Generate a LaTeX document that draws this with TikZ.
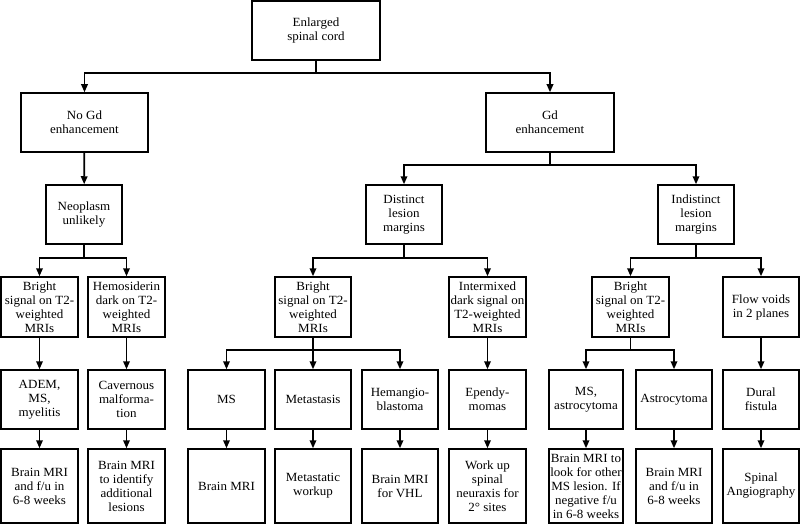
\documentclass[tikz,border=0pt]{standalone}
\usepackage{fontspec}
\setmainfont[FakeStretch=1.04]{Liberation Serif}
\usetikzlibrary{arrows.meta}

\begin{document}
\begin{tikzpicture}[x=1pt,y=-1pt,
    box/.style={draw,line width=1.5pt,inner sep=0pt,align=center,
      minimum width=#1,font=\fontsize{12.5}{14}\selectfont},
    box/.default=77pt,
    arr/.style={-{Triangle[length=8pt,width=6.5pt]},line width=1.7pt}]
    \useasboundingbox (0,0) rectangle (800,524);
    % first levels
    \node[box=128pt,minimum height=59pt] (top) at (316,30.5) {Enlarged\\spinal cord};
    \node[box=127pt,minimum height=59pt] (nogd) at (84.5,122.5) {No Gd\\enhancement};
    \node[box=128pt,minimum height=59pt] (gd) at (550,122.5) {Gd\\enhancement};
    \node[box=76pt,minimum height=59pt] (neo) at (84,214.5) {Neoplasm\\unlikely};
    \node[box=76pt,minimum height=59pt] (dist) at (404,214.5) {Distinct\\lesion\\margins};
    \node[box=76pt,minimum height=59pt] (indist) at (696,214.5) {Indistinct\\lesion\\margins};
    % signal row
    \node[box,minimum height=60pt] (bright1) at (39.5,307) {Bright\\signal on T2-\\weighted\\MRIs};
    \node[box,minimum height=60pt] (hemo) at (126.5,307) {Hemosiderin\\dark on T2-\\weighted\\MRIs};
    \node[box=76pt,minimum height=60pt] (bright2) at (313,307) {Bright\\signal on T2-\\weighted\\MRIs};
    \node[box,minimum height=60pt] (inter) at (487.5,307) {Intermixed\\dark signal on\\T2-weighted\\MRIs};
    \node[box,minimum height=60pt] (bright3) at (630.5,307) {Bright\\signal on T2-\\weighted\\MRIs};
    \node[box=76pt,minimum height=60pt] (flow) at (761,307) {Flow voids\\in 2 planes};
    % diagnosis row
    \node[box,minimum height=59pt] (adem) at (39.5,399.5) {ADEM,\\MS,\\myelitis};
    \node[box,minimum height=59pt] (cav) at (126.5,399.5) {Cavernous\\malforma-\\tion};
    \node[box,minimum height=59pt] (ms) at (226.5,399.5) {MS};
    \node[box=76pt,minimum height=59pt] (meta) at (313,399.5) {Metastasis};
    \node[box=76pt,minimum height=59pt] (hema) at (400,399.5) {Hemangio-\\blastoma};
    \node[box,minimum height=59pt] (epen) at (487.5,399.5) {Ependy-\\momas};
    \node[box=74pt,minimum height=59pt] (msastro) at (586,399.5) {MS,\\astrocytoma};
    \node[box=76pt,minimum height=59pt] (astro) at (674,399.5) {Astrocytoma};
    \node[box=76pt,minimum height=59pt] (dural) at (761,399.5) {Dural\\fistula};
    % workup row
    \node[box,minimum height=74pt] (w1) at (39.5,486) {Brain MRI\\and f/u in\\6-8 weeks};
    \node[box,minimum height=74pt] (w2) at (126.5,486) {Brain MRI\\to identify\\additional\\lesions};
    \node[box,minimum height=74pt] (w3) at (226.5,486) {Brain MRI};
    \node[box=76pt,minimum height=74pt] (w4) at (313,486) {Metastatic\\workup};
    \node[box=76pt,minimum height=74pt] (w5) at (400,486) {Brain MRI\\for VHL};
    \node[box,minimum height=74pt] (w6) at (487.5,486) {Work up\\spinal\\neuraxis for\\2° sites};
    \node[box=74pt,minimum height=74pt] (w7) at (586,486) {Brain MRI to\\look for other\\MS lesion. If\\negative f/u\\in 6-8 weeks};
    \node[box=76pt,minimum height=74pt] (w8) at (674,486) {Brain MRI\\and f/u in\\6-8 weeks};
    \node[box=76pt,minimum height=74pt] (w9) at (761,486) {Spinal\\Angiography};
    % branches
    \draw[arr] (top.south) -- ++(0,12) -| (nogd.north);
    \draw[arr] (top.south) -- ++(0,12) -| (gd.north);
    \draw[arr] (nogd) -- (neo);
    \draw[arr] (gd.south) -- ++(0,12) -| (dist.north);
    \draw[arr] (gd.south) -- ++(0,12) -| (indist.north);
    \draw[arr] (neo.south) -- ++(0,13) -| (bright1.north);
    \draw[arr] (neo.south) -- ++(0,13) -| (hemo.north);
    \draw[arr] (dist.south) -- ++(0,13) -| (bright2.north);
    \draw[arr] (dist.south) -- ++(0,13) -| (inter.north);
    \draw[arr] (indist.south) -- ++(0,13) -| (bright3.north);
    \draw[arr] (indist.south) -- ++(0,13) -| (flow.north);
    \draw[arr] (bright1) -- (adem);
    \draw[arr] (hemo) -- (cav);
    \draw[arr] (bright2.south) -- ++(0,12) -| (ms.north);
    \draw[arr] (bright2) -- (meta);
    \draw[arr] (bright2.south) -- ++(0,12) -| (hema.north);
    \draw[arr] (inter) -- (epen);
    \draw[arr] (bright3.south) -- ++(0,12) -| (msastro.north);
    \draw[arr] (bright3.south) -- ++(0,12) -| (astro.north);
    \draw[arr] (flow) -- (dural);
    \draw[arr] (adem) -- (w1);
    \draw[arr] (cav) -- (w2);
    \draw[arr] (ms) -- (w3);
    \draw[arr] (meta) -- (w4);
    \draw[arr] (hema) -- (w5);
    \draw[arr] (epen) -- (w6);
    \draw[arr] (msastro) -- (w7);
    \draw[arr] (astro) -- (w8);
    \draw[arr] (dural) -- (w9);
\end{tikzpicture}
\end{document}
